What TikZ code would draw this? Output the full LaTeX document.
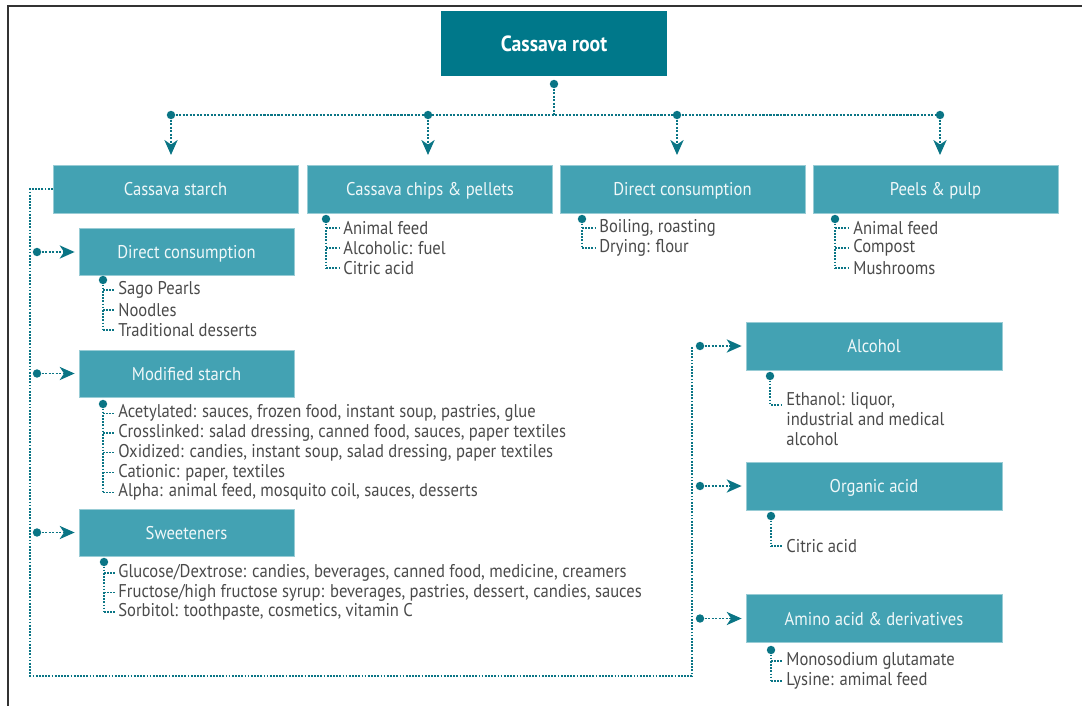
\documentclass[tikz,border=0pt]{standalone}
\usepackage{fontspec}
\setmainfont{PT Sans}[FakeStretch=0.9]
\usetikzlibrary{arrows.meta}

\definecolor{rootteal}{HTML}{00788A}
\definecolor{boxteal}{HTML}{43A2B3}
\definecolor{linkteal}{HTML}{0A7585}
\definecolor{itemgray}{HTML}{4A4A4A}

\begin{document}
\begin{tikzpicture}[
    x=0.02cm, y=-0.02cm,
    root/.style={
        rectangle,
        fill=rootteal,
        text=white,
        font=\bfseries\fontsize{12.5}{14}\selectfont,
        minimum width=4.52cm,
        minimum height=1.3cm
    },
    group/.style={
        rectangle,
        fill=boxteal,
        draw=boxteal!55!white,
        line width=0.4pt,
        text=white!92!boxteal,
        font=\fontsize{10.5}{12}\selectfont,
        text height=0.75em,
        text depth=0pt,
        minimum width=4.9cm,
        minimum height=0.96cm
    },
    subgroup/.style={group, minimum width=4.3cm, minimum height=0.94cm},
    product/.style={group, minimum width=5.12cm},
    entry/.style={anchor=west, text=itemgray, inner sep=2pt, font=\fontsize{10.5}{12}\selectfont},
    hub/.style={circle, fill=linkteal, inner sep=0pt, minimum size=4.8pt},
    link/.style={draw=linkteal, line width=1pt, dash pattern=on 1.2pt off 0.8pt},
    flow/.style={link, -{Stealth[length=8.5pt, width=7.5pt, inset=2.5pt]}},
    tick/.style={draw=linkteal, line width=0.8pt, dash pattern=on 1pt off 0.8pt},
    bus/.style={draw=linkteal, line width=0.7pt, dash pattern=on 1pt off 0.8pt}
]

\useasboundingbox (0,0) rectangle (1082,706);
\draw[line width=1.1pt, black!80] (8,706) -- (8,6) -- (1082,6);

% top row
\node[root] (cassava) at (554,43.5) {Cassava root};
\node[group] (starch) at (175.5,189) {Cassava starch};
\node[group] (chips) at (430,189) {Cassava chips \& pellets};
\node[group] (direct) at (682.5,189) {Direct consumption};
\node[group] (peels) at (935.5,189) {Peels \& pulp};

\node[hub] (roothub) at (554,84) {};
\coordinate (rootbus) at (554,115);
\node[hub] (starchtop) at (171,115) {};
\node[hub] (chipstop) at (428,115) {};
\node[hub] (directtop) at (677,115) {};
\node[hub] (peelstop) at (940,115) {};

\draw[link] (roothub) -- (rootbus);
\draw[link] (starchtop) -- (peelstop);
\foreach \b in {starch, chips, direct, peels}
    \draw[flow] (\b top) -- ++(0,40);

% starch products
\node[subgroup] (sdc) at (186.5,252) {Direct consumption};
\node[subgroup] (mod) at (186.5,373.5) {Modified starch};
\node[subgroup] (sweet) at (186.5,532.5) {Sweeteners};

% fermentation products
\node[product] (alcohol) at (874,346) {Alcohol};
\node[product] (organic) at (874,486) {Organic acid};
\node[product] (amino) at (874,618.5) {Amino acid \& derivatives};

% dotted bus around the starch column
\coordinate (busTL) at (30,189);
\coordinate (busBL) at (30,676);
\coordinate (busBR) at (692,676);
\coordinate (busTR) at (692,347);
\draw[bus] (starch.west) -- (busTL) -- (busBL) -- (busBR) -- (busTR);

\foreach \b in {sdc, mod, sweet} {
    \node[hub] (\b left) at (37,0 |- \b.west) {};
    \draw[flow] (\b left) -- ([xshift=-2.3pt]\b.west);
}
\foreach \b in {alcohol, organic, amino} {
    \node[hub] (\b left) at (700,0 |- \b.west) {};
    \draw[flow] (\b left) -- ([xshift=-2.3pt]\b.west);
}

% item lists
\node[hub] (chipshub) at (326,219) {};
\foreach \txt [count=\i] in {Animal feed, Alcoholic: fuel, Citric acid}
    \node[entry] (chips-\i) at (339.5,{208+20*\i}) {\txt};

\node[hub] (directhub) at (582,219) {};
\foreach \txt [count=\i] in {{Boiling, roasting}, Drying: flour}
    \node[entry] (direct-\i) at (595.5,{208+20*\i}) {\txt};

\node[hub] (peelshub) at (835,219) {};
\foreach \txt [count=\i] in {Animal feed, Compost, Mushrooms}
    \node[entry] (peels-\i) at (849.5,{208+20*\i}) {\txt};

\node[hub] (sdchub) at (103,280) {};
\foreach \txt [count=\i] in {Sago Pearls, Noodles, Traditional desserts}
    \node[entry] (sdc-\i) at (114.5,{270+20*\i}) {\txt};

\node[hub] (modhub) at (103,404) {};
\foreach \txt [count=\i] in {
    {Acetylated: sauces, frozen food, instant soup, pastries, glue},
    {Crosslinked: salad dressing, canned food, sauces, paper textiles},
    {Oxidized: candies, instant soup, salad dressing, paper textiles},
    {Cationic: paper, textiles},
    {Alpha: animal feed, mosquito coil, sauces, desserts}}
    \node[entry] (mod-\i) at (114.5,{393.5+19.75*\i}) {\txt};

\node[hub] (sweethub) at (104,562) {};
\foreach \txt [count=\i] in {
    {Glucose/Dextrose: candies, beverages, canned food, medicine, creamers},
    {Fructose/high fructose syrup: beverages, pastries, dessert, candies, sauces},
    {Sorbitol: toothpaste, cosmetics, vitamin C}}
    \node[entry] (sweet-\i) at (114.5,{553.5+19.5*\i}) {\txt};

\node[hub] (organichub) at (771,516) {};
\node[entry] (organic-1) at (782.5,546) {Citric acid};

\node[hub] (aminohub) at (771,650) {};
\foreach \txt [count=\i] in {Monosodium glutamate, Lysine: amimal feed}
    \node[entry] (amino-\i) at (782.5,{641+20*\i}) {\txt};

\node[hub] (alcoholhub) at (770,376) {};
\node[entry, anchor=north west, align=left, font=\fontsize{10.5}{11.2}\selectfont] (alcohol-1) at (782.5,389)
    {Ethanol: liquor,\\industrial and medical\\alcohol};

\foreach \grp/\n in {chips/3, direct/2, peels/3, sdc/3, mod/5, sweet/3, organic/1, amino/2} {
    \draw[tick] (\grp hub) -- (\grp hub |- \grp-\n.west);
    \foreach \i in {1,...,\n}
        \draw[tick] (\grp hub |- \grp-\i.west) -- (\grp-\i.west);
}
\draw[tick] (alcoholhub) |- ([yshift=-9pt]alcohol-1.north west);

\end{tikzpicture}
\end{document}
